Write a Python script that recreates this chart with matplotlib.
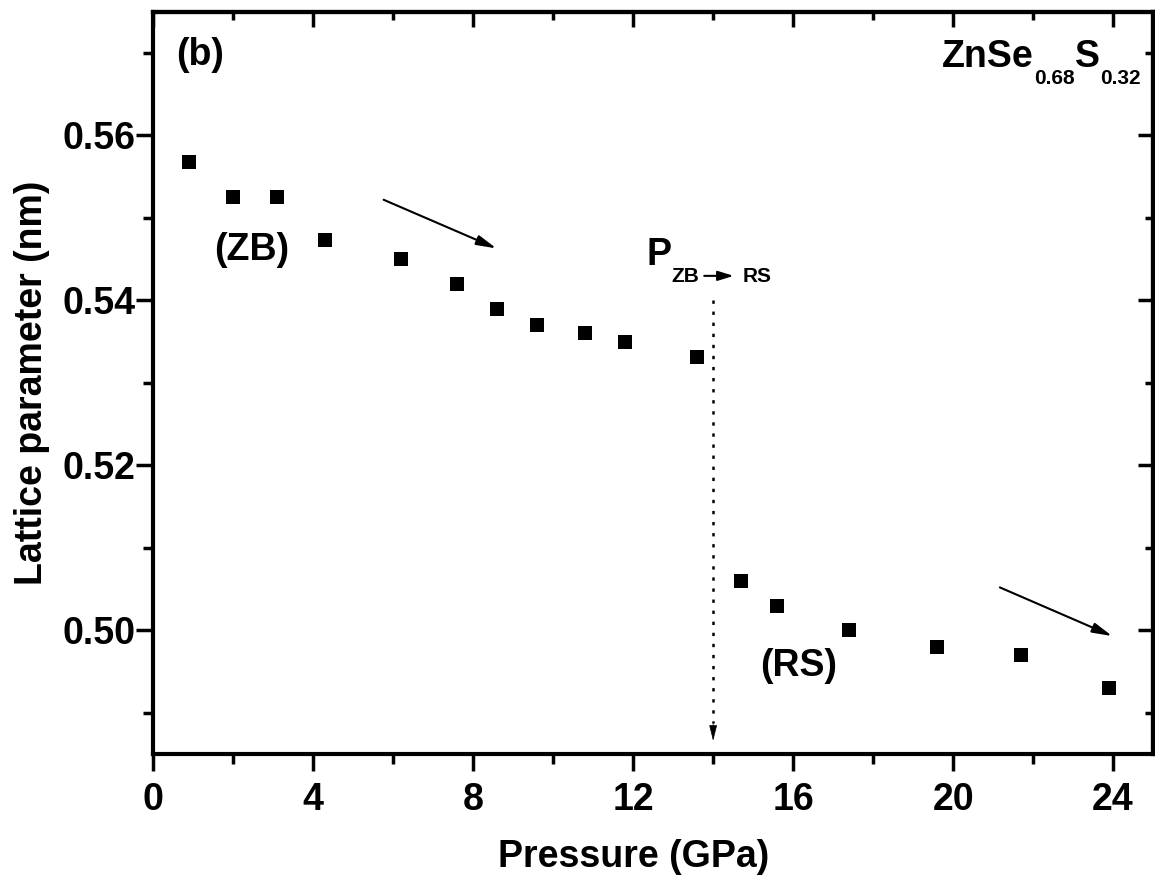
import matplotlib
matplotlib.use("Agg")
import matplotlib.pyplot as plt  # noqa: E402
from matplotlib.ticker import MultipleLocator, FormatStrFormatter  # noqa: E402

plt.rcParams["font.family"] = ["Liberation Sans", "DejaVu Sans"]
plt.rcParams["font.weight"] = "bold"

# zinc-blende branch
zb_pressure = [0.9, 2.0, 3.1, 4.3, 6.2, 7.6, 8.6, 9.6, 10.8, 11.8, 13.6]
zb_lattice = [0.5568, 0.5525, 0.5525, 0.5473, 0.5450, 0.5420, 0.5390, 0.5370, 0.5361, 0.5350, 0.5331]

# rock-salt branch
rs_pressure = [14.7, 15.6, 17.4, 19.6, 21.7, 23.9]
rs_lattice = [0.5060, 0.5030, 0.5000, 0.4980, 0.4970, 0.4930]

transition_pressure = 14.0

x_ticks = [0, 4, 8, 12, 16, 20, 24]
y_ticks = [0.50, 0.52, 0.54, 0.56]

FS_TICK = 27
FS_LABEL = 27
FS_TEXT = 27
FS_SUB = 15

fig = plt.figure(figsize=(11.55, 8.85), dpi=100)
ax = fig.add_axes([0.1327, 0.148, 0.8656, 0.8388])

ax.plot(zb_pressure, zb_lattice, "s", color="black", ms=10.3, mew=0)
ax.plot(rs_pressure, rs_lattice, "s", color="black", ms=10.3, mew=0)

ax.set_xlim(0, 25)
ax.set_ylim(0.485, 0.575)
ax.set_xticks(x_ticks)
ax.set_yticks(y_ticks)
ax.xaxis.set_minor_locator(MultipleLocator(2))
ax.yaxis.set_minor_locator(MultipleLocator(0.01))
ax.yaxis.set_major_formatter(FormatStrFormatter("%.2f"))
ax.tick_params(which="both", direction="out", width=2.5, labelsize=FS_TICK,
               top=False, right=False)
ax.tick_params(which="major", length=12)
ax.tick_params(which="minor", length=7)
ax.tick_params(axis="x", pad=8)
ax.tick_params(axis="y", pad=1)
for sp in ax.spines.values():
    sp.set_linewidth(3)

# inward ticks on the top and right frame
top = ax.secondary_xaxis("top")
top.set_xticks(x_ticks)
top.xaxis.set_minor_locator(MultipleLocator(2))
top.tick_params(which="both", direction="in", width=2.5, labeltop=False)
top.tick_params(which="major", length=11)
top.tick_params(which="minor", length=6)
top.spines["top"].set_linewidth(3)

right = ax.secondary_yaxis("right")
right.set_yticks(y_ticks)
right.yaxis.set_minor_locator(MultipleLocator(0.01))
right.tick_params(which="both", direction="in", width=2.5, labelright=False)
right.tick_params(which="major", length=11)
right.tick_params(which="minor", length=6)
right.spines["right"].set_linewidth(3)

ax.set_xlabel("Pressure (GPa)", fontsize=FS_LABEL, fontweight="bold")
ax.set_ylabel("Lattice parameter (nm)", fontsize=FS_LABEL, fontweight="bold")
ax.xaxis.set_label_coords(0.48, -0.115)
ax.yaxis.set_label_coords(-0.103, 0.5)

# trend arrows
arrow_kw = dict(arrowstyle="-|>,head_length=1.2,head_width=0.3", color="black",
                lw=1.5, mutation_scale=10, shrinkA=0, shrinkB=0)
ax.annotate("", xy=(8.58, 0.5463), xytext=(5.76, 0.5522), arrowprops=arrow_kw)
ax.annotate("", xy=(23.98, 0.4993), xytext=(21.17, 0.5052), arrowprops=arrow_kw)

# dotted marker of the transition pressure
ax.plot([transition_pressure, transition_pressure], [0.5400, 0.48875],
        color="black", lw=1.8, ls=(0, (1.33, 3.1)))
ax.annotate("", xy=(transition_pressure, 0.48661), xytext=(transition_pressure, 0.4888),
            arrowprops=dict(arrowstyle="-|>,head_length=0.99,head_width=0.25",
                            mutation_scale=10, color="black", lw=0.5,
                            shrinkA=0, shrinkB=0))

ax.text(0.57, 0.5697, "(b)", fontsize=FS_TEXT, ha="left", va="center")
ax.text(2.46, 0.5461, "(ZB)", fontsize=FS_TEXT, ha="center", va="center")
ax.text(16.14, 0.4957, "(RS)", fontsize=FS_TEXT, ha="center", va="center")


def subscript(parent, s, size, dy=4.6):
    return ax.annotate(s, xy=(1, 0), xycoords=parent, xytext=(0, dy),
                       textcoords="offset points", ha="left", va="top",
                       fontsize=size)


def follow(prev, base, s, size, gap=0):
    return ax.annotate(s, xy=(1, 0), xycoords=(prev, base), xytext=(gap, 0),
                       textcoords="offset points", ha="left", va="bottom",
                       fontsize=size)


# compound formula
t_zn = ax.text(19.73, 0.56826, "ZnSe", fontsize=FS_TEXT, ha="left", va="baseline")
t_se = subscript(t_zn, "0.68", FS_SUB)
t_s = follow(t_se, t_zn, "S", FS_TEXT)
subscript(t_s, "0.32", FS_SUB)

# transition pressure label
t_p = ax.text(12.33, 0.54427, "P", fontsize=FS_TEXT, ha="left", va="baseline")
t_zb = subscript(t_p, "ZB", FS_SUB, dy=4.2)
t_rs = follow(t_zb, t_zb, "RS", FS_SUB, gap=31)
ax.annotate("", xy=(0, 0.55), xycoords=t_rs, xytext=(1, 0.55), textcoords=t_zb,
            arrowprops=dict(arrowstyle="-|>,head_length=0.94,head_width=0.29",
                            mutation_scale=10, color="black", lw=1.5,
                            shrinkA=3.6, shrinkB=6.2))

fig.savefig("out.png", dpi=100)
